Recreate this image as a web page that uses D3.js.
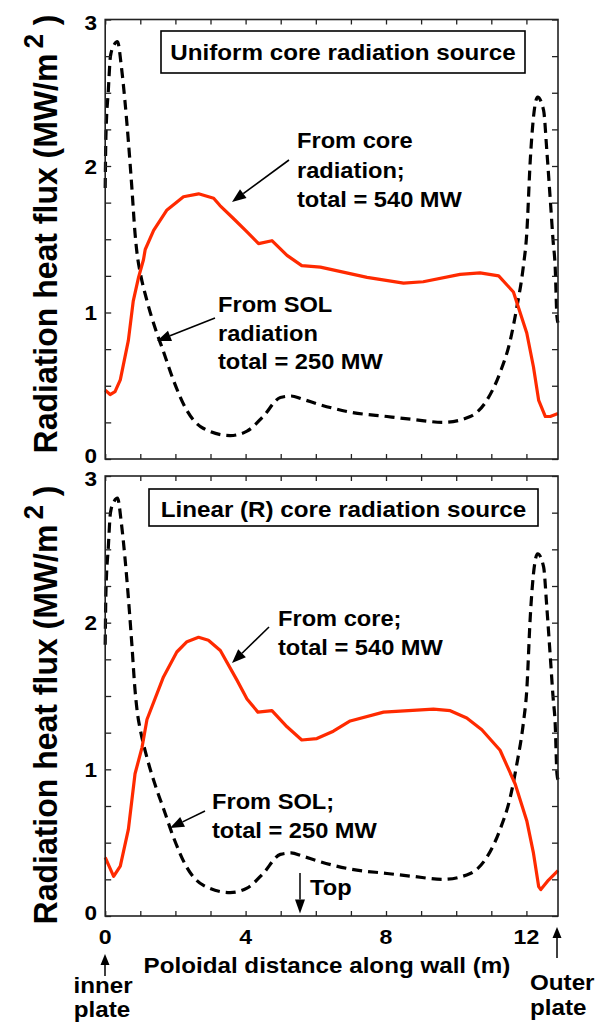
<!DOCTYPE html>
<html>
<head>
<meta charset="utf-8">
<script src="https://cdn.jsdelivr.net/npm/d3@7"></script>
<style>
  body { margin: 0; background: #fff; }
  svg { display: block; }
  text { font-family: "Liberation Sans", Arial, Helvetica, sans-serif; font-weight: bold; fill: #000; }
</style>
</head>
<body>
<svg id="chart" width="597" height="1028"></svg>
<script>
// Poloidal distance along the wall (m) and radiation heat flux (MW/m^2)

// SOL radiation contribution (same in both cases)
const solX = [0, 0.02, 0.09, 0.15, 0.26, 0.35, 0.46, 0.56, 0.66, 0.76, 0.85, 0.92, 1.0, 1.19, 1.47, 1.65,
  1.94, 2.33, 2.79, 3.56, 4.04, 4.5, 4.99, 5.3, 5.6, 6.13, 6.98, 8.03, 8.77, 9.63, 10.4, 10.87, 11.25,
  11.54, 11.73, 11.91, 12.01, 12.11, 12.2, 12.32, 12.49, 12.58, 12.68, 12.76, 12.82, 12.87, 12.9];
const solY = [1.85, 2.2, 2.52, 2.75, 2.83, 2.85, 2.68, 2.45, 2.17, 1.85, 1.54, 1.38, 1.27, 1.08, 0.86, 0.74,
  0.54, 0.33, 0.21, 0.16, 0.19, 0.29, 0.42, 0.43, 0.41, 0.37, 0.32, 0.29, 0.27, 0.25, 0.29, 0.40, 0.59,
  0.81, 1.04, 1.31, 1.54, 2.04, 2.33, 2.47, 2.38, 2.11, 1.77, 1.49, 1.31, 0.97, 0.93];

// Core radiation, uniform source
const coreUniformX = [0, 0.14, 0.28, 0.43, 0.66, 0.80, 0.95, 1.09, 1.14, 1.38, 1.76, 2.23, 2.66, 3.09, 3.27,
  3.66, 4.04, 4.37, 4.75, 5.18, 5.60, 6.13, 7.46, 8.5, 9.06, 10.11, 10.68, 11.21, 11.63, 12.01, 12.2,
  12.35, 12.54, 12.68, 12.9];
const coreUniformY = [0.47, 0.44, 0.46, 0.54, 0.81, 1.08, 1.24, 1.36, 1.43, 1.56, 1.70, 1.79, 1.81, 1.78, 1.73,
  1.64, 1.55, 1.47, 1.49, 1.39, 1.32, 1.31, 1.24, 1.20, 1.21, 1.26, 1.27, 1.25, 1.14, 0.86, 0.63,
  0.40, 0.29, 0.29, 0.31];

// Core radiation, source linear in R
const coreLinearX = [0, 0.24, 0.43, 0.66, 0.85, 1.05, 1.19, 1.66, 2.04, 2.33, 2.66, 2.94, 3.28, 3.75, 4.04,
  4.35, 4.75, 5.18, 5.60, 6.03, 6.5, 6.98, 7.93, 9.35, 9.83, 10.3, 10.73, 11.25, 11.68, 12.01, 12.2,
  12.35, 12.41, 12.63, 12.9];
const coreLinearY = [0.40, 0.27, 0.34, 0.59, 0.97, 1.15, 1.34, 1.63, 1.80, 1.87, 1.90, 1.88, 1.81, 1.61, 1.48,
  1.39, 1.40, 1.29, 1.20, 1.21, 1.26, 1.33, 1.39, 1.41, 1.40, 1.35, 1.27, 1.13, 0.90, 0.65, 0.43,
  0.20, 0.18, 0.245, 0.31];

const yTickLabels = [0, 1, 2, 3];
const xTickLabels = [0, 4, 8, 12];
const xMax = 12.9;
const yMax = 3;

const svg = d3.select("#chart");
svg.append("rect").attr("width", 597).attr("height", 1028).attr("fill", "#fff");

const SX = 1.1; // horizontal glyph stretch
const RED = "#ff2a00";

function label(g, x, y, str, size, anchor) {
  return g.append("text")
    .attr("transform", `translate(${x},${y}) scale(${SX},1)`)
    .attr("font-size", size)
    .attr("text-anchor", anchor || "start")
    .text(str);
}

function arrow(g, x1, y1, x2, y2, head, width, sw) {
  const a = Math.atan2(y2 - y1, x2 - x1);
  const bx = x2 - head * Math.cos(a), by = y2 - head * Math.sin(a);
  g.append("line").attr("x1", x1).attr("y1", y1).attr("x2", bx).attr("y2", by)
    .attr("stroke", "#000").attr("stroke-width", sw || 1.5);
  const px = -Math.sin(a) * width / 2, py = Math.cos(a) * width / 2;
  g.append("path")
    .attr("d", `M${x2},${y2}L${bx + px},${by + py}L${bx - px},${by - py}Z`)
    .attr("fill", "#000");
}

const x = d3.scaleLinear().domain([0, xMax]).range([105.2, 558]);

const panels = [
  {
    top: 19.5, bottom: 459, titleMid: 234,
    coreX: coreUniformX, coreY: coreUniformY,
    title: "Uniform core radiation source",
    box: { x0: 161, x1: 525, y0: 31, y1: 73, base: 59.5 },
    notes: [
      { lines: ["From core", "radiation;", "total = 540 MW"], x: 297, y: 148, step: 29.5,
        arrow: [289, 160, 232, 202] },
      { lines: ["From SOL", "radiation", "total = 250 MW"], x: 218, y: 312, step: 28.5,
        arrow: [215, 318, 157, 341] }
    ],
    bottomLabels: false
  },
  {
    top: 476, bottom: 916, titleMid: 705,
    coreX: coreLinearX, coreY: coreLinearY,
    title: "Linear (R) core radiation source",
    box: { x0: 149, x1: 538, y0: 489, y1: 526, base: 517 },
    notes: [
      { lines: ["From core;", "total = 540 MW"], x: 278, y: 626, step: 28.5,
        arrow: [269, 627, 232, 663] },
      { lines: ["From SOL;", "total = 250 MW"], x: 212, y: 809, step: 28.5,
        arrow: [205, 811, 170, 828] }
    ],
    bottomLabels: true
  }
];

panels.forEach(p => {
  const y = d3.scaleLinear().domain([0, yMax]).range([p.bottom, p.top]);
  const g = svg.append("g");
  const x0 = x.range()[0], x1 = x.range()[1];

  // curves
  const line = d3.line().x(d => x(d[0])).y(d => y(d[1]));
  const sol = solX.map((v, i) => [v, solY[i]]);
  const core = p.coreX.map((v, i) => [v, p.coreY[i]]);

  g.append("path").datum(sol)
    .attr("d", line.curve(d3.curveMonotoneX))
    .attr("fill", "none").attr("stroke", "#000").attr("stroke-width", 3.2)
    .attr("stroke-dasharray", "10,6");

  g.append("path").datum(core)
    .attr("d", line.curve(d3.curveLinear))
    .attr("fill", "none").attr("stroke", RED).attr("stroke-width", 3.2)
    .attr("stroke-linejoin", "round");

  // axes with inward ticks on all four sides
  const yMinor = d3.range(0, yMax + 0.001, 0.25);
  const xMinor = d3.range(0, 13, 1);

  const left = d3.axisRight(y).tickValues(yMinor).tickSize(6).tickFormat("");
  g.append("g").attr("transform", `translate(${x0},0)`).call(left);
  const right = d3.axisLeft(y).tickValues(yMinor).tickSize(6).tickFormat("");
  g.append("g").attr("transform", `translate(${x1},0)`).call(right);
  const topAx = d3.axisBottom(x).tickValues(xMinor).tickSize(5).tickFormat("");
  g.append("g").attr("transform", `translate(0,${p.top})`).call(topAx);
  const botAx = d3.axisTop(x).tickValues(xMinor).tickSize(5).tickFormat("");
  g.append("g").attr("transform", `translate(0,${p.bottom})`).call(botAx);
  g.selectAll(".domain").remove();
  g.selectAll(".tick line").attr("stroke", "#222").attr("stroke-width", 1.3);

  g.append("rect").attr("x", x0).attr("y", p.top).attr("width", x1 - x0).attr("height", p.bottom - p.top)
    .attr("fill", "none").attr("stroke", "#222").attr("stroke-width", 1.6);

  // y tick labels; the end values are nudged inward so they clear the neighbouring panel
  yTickLabels.forEach(v => {
    const nudge = v === 0 ? -3.5 : (v === yMax ? 2.5 : 0);
    label(g, 97, y(v) + 7.5 + nudge, String(v), 20.5, "end");
  });
  if (p.bottomLabels) {
    xTickLabels.forEach(v => label(g, x(v), 944, String(v), 21, "middle"));
  }

  // title box
  g.append("rect").attr("x", p.box.x0).attr("y", p.box.y0)
    .attr("width", p.box.x1 - p.box.x0).attr("height", p.box.y1 - p.box.y0)
    .attr("fill", "#fff").attr("stroke", "#000").attr("stroke-width", 1.6);
  label(g, (p.box.x0 + p.box.x1) / 2, p.box.base, p.title, 22, "middle");

  // annotations
  p.notes.forEach(n => {
    n.lines.forEach((t, i) => label(g, n.x, n.y + i * n.step, t, 21.5, "start"));
    arrow(g, n.arrow[0], n.arrow[1], n.arrow[2], n.arrow[3], 14, 11, 1.6);
  });

  // y-axis title
  const yt = g.append("text")
    .attr("transform", `translate(57,${p.titleMid}) rotate(-90) scale(1,1.05)`)
    .attr("font-size", 32).attr("text-anchor", "middle");
  yt.append("tspan").text("Radiation heat flux (MW/m");
  yt.append("tspan").attr("font-size", 26).attr("dy", -13).attr("dx", 5).text("2");
  yt.append("tspan").attr("dy", 13).text(" )");
});

// bottom annotations
const bottomG = svg.append("g");
arrow(bottomG, 300, 873, 300, 913.5, 14, 10, 1.5);
label(bottomG, 310, 895, "Top", 21.5, "start");
label(bottomG, 327, 973, "Poloidal distance along wall (m)", 22, "middle");
arrow(bottomG, 105, 976, 105, 954, 11, 9, 1.5);
label(bottomG, 103, 993, "inner", 22, "middle");
label(bottomG, 102, 1017, "plate", 22, "middle");
arrow(bottomG, 557, 958, 557, 927, 11, 9, 1.5);
label(bottomG, 530, 990, "Outer", 22, "start");
label(bottomG, 530, 1015, "plate", 22, "start");
</script>
</body>
</html>
